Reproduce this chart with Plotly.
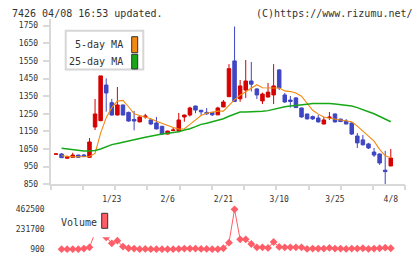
import numpy as np
import plotly.graph_objects as go

# ---------------- data ----------------
opens  = [1021, 1022, 998, 1003, 1016, 1016, 1003, 1175, 1211, 1413,
          1313, 1243, 1300, 1258, 1218, 1204, 1232, 1215, 1198, 1179,
          1135, 1155, 1152, 1232, 1243, 1294, 1270, 1258, 1258, 1244,
          1289, 1347, 1550, 1335, 1385, 1436, 1391, 1323, 1345, 1357,
          1499, 1357, 1328, 1340, 1283, 1249, 1234, 1226, 1192, 1228,
          1249, 1220, 1209, 1198, 1124, 1102, 1079, 1033, 1022, 930, 954]
highs  = [1024, 1027, 1012, 1029, 1017, 1022, 1113, 1334, 1465, 1451,
          1334, 1402, 1302, 1262, 1266, 1235, 1250, 1222, 1232, 1181,
          1154, 1170, 1255, 1245, 1290, 1296, 1272, 1283, 1260, 1290,
          1328, 1532, 1745, 1442, 1555, 1544, 1395, 1370, 1425, 1532,
          1503, 1368, 1351, 1345, 1285, 1250, 1240, 1243, 1232, 1260,
          1252, 1222, 1220, 1200, 1141, 1130, 1085, 1056, 1025, 1040, 1050]
lows   = [1020, 1000, 996, 1001, 1002, 1006, 1001, 1158, 1208, 1262,
          1240, 1241, 1242, 1205, 1156, 1202, 1222, 1186, 1162, 1133,
          1133, 1153, 1150, 1205, 1235, 1253, 1243, 1243, 1238, 1243,
          1287, 1345, 1318, 1318, 1340, 1376, 1334, 1305, 1343, 1305,
          1385, 1312, 1285, 1283, 1228, 1218, 1215, 1200, 1190, 1215,
          1200, 1203, 1190, 1130, 1056, 1070, 1050, 1005, 960, 850, 954]
closes = [1022, 1001, 1005, 1016, 1003, 1007, 1090, 1249, 1465, 1368,
          1243, 1300, 1243, 1209, 1209, 1232, 1237, 1192, 1164, 1135,
          1152, 1158, 1215, 1243, 1283, 1271, 1261, 1250, 1244, 1283,
          1317, 1506, 1320, 1408, 1436, 1418, 1357, 1362, 1373, 1408,
          1397, 1317, 1320, 1285, 1232, 1221, 1221, 1204, 1215, 1231,
          1204, 1206, 1192, 1135, 1085, 1074, 1056, 1016, 971, 922, 999]
ma5 = [None, 1012, 1008, 1006, 1006, 1005, 1008, 1025, 1140, 1228,
       1285, 1322, 1326, 1290, 1250, 1240, 1232, 1222, 1208, 1195,
       1186, 1172, 1163, 1165, 1190, 1213, 1240, 1253, 1260, 1265,
       1265, 1300, 1330, 1355, 1375, 1398, 1415, 1398, 1395, 1396,
       1396, 1380, 1376, 1368, 1350, 1308, 1270, 1248, 1232, 1225,
       1220, 1216, 1212, 1205, 1180, 1152, 1125, 1095, 1048, 1012, 1000]
ma25 = [None, 1054, 1050, 1045, 1041, 1039, 1039, 1042, 1050, 1062,
        1075, 1082, 1088, 1094, 1102, 1110, 1117, 1124, 1129, 1135,
        1139, 1143, 1148, 1158, 1165, 1177, 1190, 1196, 1205, 1214,
        1222, 1236, 1250, 1260, 1260, 1260, 1261, 1264, 1268, 1276,
        1285, 1290, 1294, 1296, 1300, 1304, 1308, 1309, 1309, 1308,
        1305, 1302, 1298, 1294, 1285, 1275, 1262, 1250, 1235, 1222, 1205]
volume = [None, 2000, 2000, 2000, 2000, 9000, 24000, 190000, 330000, 140000,
          70000, 100000, 32000, 13000, 9000, 2000, 5000, 2000, 2000, 2000,
          2000, 2000, 5000, 9000, 9000, 9000, 5000, 5000, 2000, 2000,
          13000, 77000, 462500, 116000, 116000, 62000, 24000, 24000, 17000, 85000,
          28000, 24000, 24000, 24000, 24000, 5000, 9000, 9000, 9000, 17000,
          9000, 9000, 5000, 9000, 9000, 13000, 5000, 9000, 13000, 20000, 13000]
tick_pos = [10, 20, 30, 40, 50, 60]
tick_labels = ["1/23", "2/6", "2/21", "3/10", "3/25", "4/8"]
price_ticks = [850, 950, 1050, 1150, 1250, 1350, 1450, 1550, 1650, 1750]
vol_ticks = [900, 231700, 462500]
vol_tick_labels = ["900", "231700", "462500"]

# ---------------- styling / layout ----------------
W, H = 420, 259
def px(x): return x / W
def py(y): return 1 - y / H

RED = "#d50000"
BLUE = "#3f46c2"
ORANGE = "#f28a10"
GREEN = "#17a817"
VOLC = "#ff5e68"
AXC = "#d9d9d9"
TXT = "#333333"
MONO = "DejaVu Sans Mono"

idx = list(range(len(closes)))
XR = [-0.95, 62.6]
XD = [px(50.7), px(405.3)]

fig = go.Figure()
fig.add_trace(go.Candlestick(
    x=idx, open=opens, high=highs, low=lows, close=closes,
    increasing=dict(line=dict(color=RED, width=1), fillcolor=RED),
    decreasing=dict(line=dict(color=BLUE, width=1), fillcolor=BLUE),
    whiskerwidth=0, showlegend=False, xaxis="x", yaxis="y", hoverinfo="skip"))
fig.add_trace(go.Scatter(x=idx, y=ma5, mode="lines", line=dict(color=ORANGE, width=1.1),
                         showlegend=False, xaxis="x", yaxis="y", hoverinfo="skip"))
fig.add_trace(go.Scatter(x=idx, y=ma25, mode="lines", line=dict(color=GREEN, width=1.5),
                         showlegend=False, xaxis="x", yaxis="y", hoverinfo="skip"))
fig.add_trace(go.Scatter(x=idx, y=volume, mode="lines+markers",
                         line=dict(color=VOLC, width=1),
                         marker=dict(symbol="diamond", size=6, color=VOLC),
                         cliponaxis=False, showlegend=False,
                         xaxis="x2", yaxis="y2", hoverinfo="skip"))
# helper trace for the tick-mark axis
fig.add_trace(go.Scatter(x=[0], y=[None], mode="lines", showlegend=False,
                         xaxis="x3", yaxis="y", hoverinfo="skip"))

tick_font = dict(family=MONO, size=8, color=TXT)
fig.update_layout(
    width=W, height=H, margin=dict(l=0, r=0, t=0, b=0),
    paper_bgcolor="white", plot_bgcolor="white", template="none",
    boxgap=0.1, showlegend=False,
    xaxis=dict(domain=XD, range=XR, anchor="y", showline=True, linecolor=AXC, linewidth=2,
               tickmode="array", tickvals=tick_pos, ticktext=tick_labels, ticks="",
               ticklabelstandoff=6, tickfont=tick_font, showgrid=False, zeroline=False,
               rangeslider=dict(visible=False), automargin=False),
    xaxis3=dict(domain=XD, range=XR, anchor="y", overlaying="x",
                tickmode="array", tickvals=list(np.linspace(XR[0], XR[1], 12)),
                ticks="outside", ticklen=5, tickwidth=1.5, tickcolor=AXC,
                showticklabels=False, showline=False, showgrid=False, zeroline=False,
                automargin=False),
    yaxis=dict(domain=[py(184.3), py(18.6)], range=[850, 1790], anchor="x",
               showline=True, linecolor=AXC, linewidth=2,
               tickmode="array", tickvals=price_ticks, ticks="outside", ticklen=6,
               tickwidth=1.5, tickcolor=AXC, tickfont=tick_font, ticklabelstandoff=3,
               showgrid=False, zeroline=False, automargin=False),
    xaxis2=dict(domain=XD, range=XR, anchor="y2", visible=False),
    yaxis2=dict(domain=[py(249.3), py(209.3)], range=[900, 462500], anchor="x2",
                showline=False, tickmode="array", tickvals=vol_ticks, ticktext=vol_tick_labels,
                ticks="", ticklabelstandoff=5, tickfont=tick_font,
                showgrid=False, zeroline=False, automargin=False),
)

shapes = [
    # price legend box
    dict(type="rect", xref="paper", yref="paper", x0=px(65.7), x1=px(143.3),
         y0=py(69.5), y1=py(30.7), line=dict(color="#d6d6d6", width=2), fillcolor="white"),
    dict(type="rect", xref="paper", yref="paper", x0=px(131.7), x1=px(137.7),
         y0=py(52.7), y1=py(36.7), line=dict(color="#333333", width=1), fillcolor=ORANGE),
    dict(type="rect", xref="paper", yref="paper", x0=px(131.7), x1=px(137.7),
         y0=py(69.0), y1=py(54.3), line=dict(color="#333333", width=1), fillcolor=GREEN),
    # volume legend area
    dict(type="rect", xref="paper", yref="paper", x0=px(55), x1=px(110),
         y0=py(237.3), y1=py(205), line=dict(width=0), fillcolor="white"),
    dict(type="rect", xref="paper", yref="paper", x0=px(101.7), x1=px(107.7),
         y0=py(228.3), y1=py(213.3), line=dict(color="#333333", width=1), fillcolor=VOLC),
]
fig.update_layout(shapes=shapes)

lab_font = dict(family=MONO, size=10, color=TXT)
annos = [
    dict(text="7426 04/08 16:53 updated.", x=px(10), y=py(13), xanchor="left"),
    dict(text="(C)https://www.rizumu.net/", x=px(415), y=py(13), xanchor="right"),
    dict(text="5-day MA", x=px(124.5), y=py(45), xanchor="right"),
    dict(text="25-day MA", x=px(124.5), y=py(62), xanchor="right"),
    dict(text="Volume", x=px(58.7), y=py(222.3), xanchor="left"),
]
fig.update_layout(annotations=[dict(a, xref="paper", yref="paper", yanchor="middle",
                                    showarrow=False, font=lab_font) for a in annos])

fig.write_html("out.html", config={"displayModeBar": False},
               post_script="document.body.style.margin='0px';document.body.style.padding='0px';")
